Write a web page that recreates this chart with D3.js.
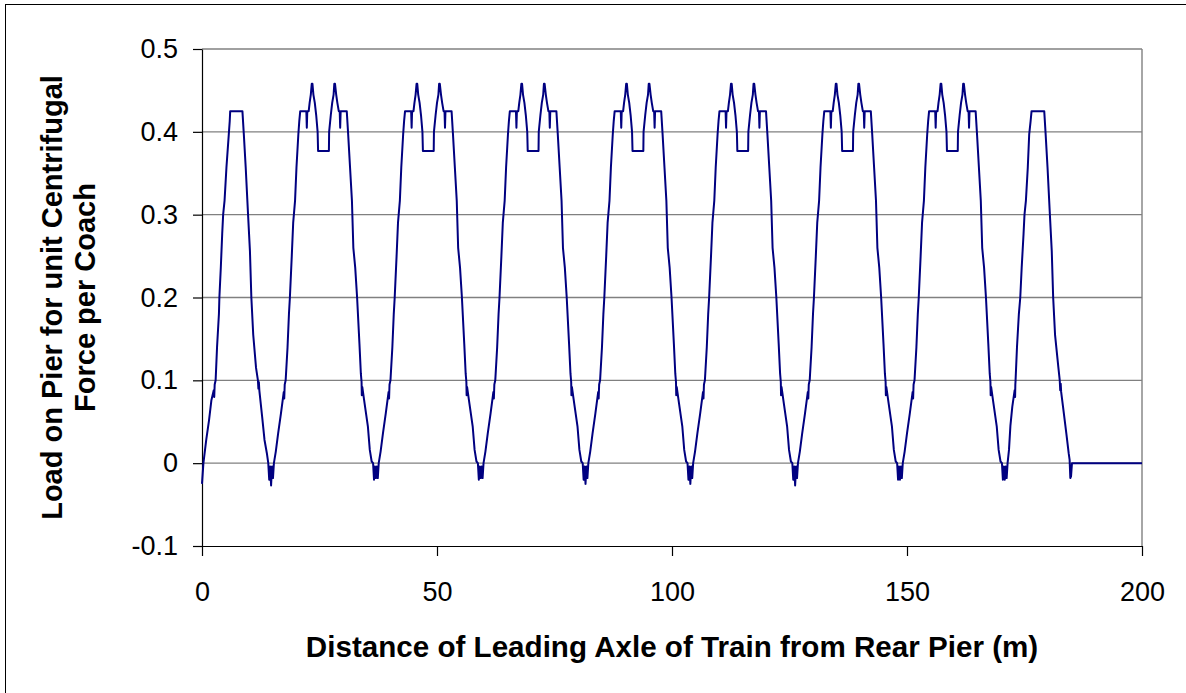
<!DOCTYPE html>
<html>
<head>
<meta charset="utf-8">
<script src="https://cdn.jsdelivr.net/npm/d3@7"></script>
<style>
  html, body { margin: 0; padding: 0; background: #fff; }
  svg { display: block; font-family: "Liberation Sans", Arial, sans-serif; }
</style>
</head>
<body>
<svg id="chart" width="1186" height="693"></svg>
<script>
// Axis ticks and labels
const xTicks = [0, 50, 100, 150, 200];
const xTickLabels = ["0", "50", "100", "150", "200"];
const yTicks = [-0.1, 0, 0.1, 0.2, 0.3, 0.4, 0.5];
const yTickLabels = ["-0.1", "0", "0.1", "0.2", "0.3", "0.4", "0.5"];
const xTitle = "Distance of Leading Axle of Train from Rear Pier (m)";
const yTitleLines = ["Load on Pier for unit Centrifugal", "Force per Coach"];

// Load on pier [distance (m), load] as the train advances, one stretch per coach passage
const stretch1 = [[0,-0.025],[0.3,0],[0.9,0.028],[1.5,0.052],[2.0,0.076],[2.5,0.088],[2.6,0.08],[2.7,0.095],[2.9,0.1],[3.2,0.14],[3.6,0.18],[3.7,0.2],[4.0,0.236],[4.3,0.277],[4.5,0.3],[4.8,0.317],[5.2,0.357],[5.7,0.397],[5.9,0.413],[6.0,0.425],[8.6,0.425],[8.9,0.397],[9.3,0.357],[9.8,0.3],[10.2,0.256],[10.5,0.2],[10.9,0.155],[11.5,0.115],[11.9,0.1],[12.0,0.09],[12.1,0.098],[12.2,0.088],[12.8,0.056],[13.3,0.028],[13.8,0.012]];

const stretch2 = [[14.1,0],[14.3,-0.02],[14.5,-0.004],[14.7,-0.027],[14.9,-0.004],[15.1,-0.018],[15.3,0],[15.7,0.014],[16.2,0.036],[16.8,0.06],[17.4,0.086],[17.5,0.078],[17.6,0.095],[17.8,0.1],[18.2,0.14],[18.5,0.18],[18.7,0.2],[19.1,0.25],[19.4,0.29],[19.8,0.317],[20.1,0.357],[20.5,0.397],[20.7,0.413],[20.9,0.425],[22.2,0.425],[22.3,0.405],[22.4,0.425],[22.7,0.425],[22.9,0.435],[23.15,0.445],[23.35,0.458],[23.5,0.458],[23.7,0.445],[24.0,0.435],[24.3,0.42],[24.6,0.4],[24.7,0.377],[27.0,0.377],[27.05,0.4],[27.4,0.42],[27.7,0.435],[28.0,0.445],[28.15,0.458],[28.3,0.458],[28.55,0.445],[28.8,0.435],[29.1,0.425],[29.3,0.425],[29.4,0.405],[29.5,0.425],[30.8,0.425],[31.1,0.397],[31.5,0.357],[31.9,0.317],[32.2,0.26],[32.6,0.236],[33.0,0.2],[33.5,0.144],[33.8,0.108],[33.95,0.098],[34.0,0.082],[34.1,0.092],[34.6,0.072],[35.3,0.044],[35.7,0.016],[36.1,0.002]];

const stretch3 = [[36.4,0],[36.6,-0.02],[36.8,-0.004],[37.0,-0.018],[37.2,-0.004],[37.4,-0.018],[37.6,0],[38.0,0.014],[38.5,0.036],[39.1,0.06],[39.7,0.086],[39.8,0.078],[39.9,0.095],[40.1,0.1],[40.5,0.14],[40.8,0.18],[41.0,0.2],[41.4,0.25],[41.7,0.29],[42.1,0.317],[42.4,0.357],[42.8,0.397],[43.0,0.413],[43.2,0.425],[44.5,0.425],[44.6,0.405],[44.7,0.425],[45.0,0.425],[45.2,0.435],[45.45,0.445],[45.65,0.458],[45.8,0.458],[46.0,0.445],[46.3,0.435],[46.6,0.42],[46.9,0.4],[47.0,0.377],[49.3,0.377],[49.35,0.4],[49.7,0.42],[50.0,0.435],[50.3,0.445],[50.45,0.458],[50.6,0.458],[50.85,0.445],[51.1,0.435],[51.4,0.425],[51.6,0.425],[51.7,0.405],[51.8,0.425],[53.1,0.425],[53.4,0.397],[53.8,0.357],[54.2,0.317],[54.5,0.26],[54.9,0.236],[55.3,0.2],[55.8,0.144],[56.1,0.108],[56.25,0.098],[56.3,0.082],[56.4,0.092],[56.9,0.072],[57.6,0.044],[58.0,0.016],[58.4,0.002]];

const stretch4 = [[58.7,0],[58.9,-0.02],[59.1,-0.004],[59.3,-0.018],[59.5,-0.004],[59.7,-0.018],[59.9,0],[60.3,0.014],[60.8,0.036],[61.4,0.06],[62.0,0.086],[62.1,0.078],[62.2,0.095],[62.4,0.1],[62.8,0.14],[63.1,0.18],[63.3,0.2],[63.7,0.25],[64.0,0.29],[64.4,0.317],[64.7,0.357],[65.1,0.397],[65.3,0.413],[65.5,0.425],[66.8,0.425],[66.9,0.405],[67.0,0.425],[67.3,0.425],[67.5,0.435],[67.75,0.445],[67.95,0.458],[68.1,0.458],[68.3,0.445],[68.6,0.435],[68.9,0.42],[69.2,0.4],[69.3,0.377],[71.6,0.377],[71.65,0.4],[72.0,0.42],[72.3,0.435],[72.6,0.445],[72.75,0.458],[72.9,0.458],[73.15,0.445],[73.4,0.435],[73.7,0.425],[73.9,0.425],[74.0,0.405],[74.1,0.425],[75.4,0.425],[75.7,0.397],[76.1,0.357],[76.5,0.317],[76.8,0.26],[77.2,0.236],[77.6,0.2],[78.1,0.144],[78.4,0.108],[78.55,0.098],[78.6,0.082],[78.7,0.092],[79.2,0.072],[79.9,0.044],[80.3,0.016],[80.7,0.002]];

const stretch5 = [[81.0,0],[81.2,-0.02],[81.4,-0.004],[81.6,-0.025],[81.8,-0.004],[82.0,-0.018],[82.2,0],[82.6,0.014],[83.1,0.036],[83.7,0.06],[84.3,0.086],[84.4,0.078],[84.5,0.095],[84.7,0.1],[85.1,0.14],[85.4,0.18],[85.6,0.2],[86.0,0.25],[86.3,0.29],[86.7,0.317],[87.0,0.357],[87.4,0.397],[87.6,0.413],[87.8,0.425],[89.1,0.425],[89.2,0.405],[89.3,0.425],[89.6,0.425],[89.8,0.435],[90.05,0.445],[90.25,0.458],[90.4,0.458],[90.6,0.445],[90.9,0.435],[91.2,0.42],[91.5,0.4],[91.6,0.377],[93.9,0.377],[93.95,0.4],[94.3,0.42],[94.6,0.435],[94.9,0.445],[95.05,0.458],[95.2,0.458],[95.45,0.445],[95.7,0.435],[96.0,0.425],[96.2,0.425],[96.3,0.405],[96.4,0.425],[97.7,0.425],[98.0,0.397],[98.4,0.357],[98.8,0.317],[99.1,0.26],[99.5,0.236],[99.9,0.2],[100.4,0.144],[100.7,0.108],[100.85,0.098],[100.9,0.082],[101.0,0.092],[101.5,0.072],[102.2,0.044],[102.6,0.016],[103.0,0.002]];

const stretch6 = [[103.3,0],[103.5,-0.02],[103.7,-0.004],[103.9,-0.025],[104.1,-0.004],[104.3,-0.018],[104.5,0],[104.9,0.014],[105.4,0.036],[106.0,0.06],[106.6,0.086],[106.7,0.078],[106.8,0.095],[107.0,0.1],[107.4,0.14],[107.7,0.18],[107.9,0.2],[108.3,0.25],[108.6,0.29],[109.0,0.317],[109.3,0.357],[109.7,0.397],[109.9,0.413],[110.1,0.425],[111.4,0.425],[111.5,0.405],[111.6,0.425],[111.9,0.425],[112.1,0.435],[112.35,0.445],[112.55,0.458],[112.7,0.458],[112.9,0.445],[113.2,0.435],[113.5,0.42],[113.8,0.4],[113.9,0.377],[116.2,0.377],[116.25,0.4],[116.6,0.42],[116.9,0.435],[117.2,0.445],[117.35,0.458],[117.5,0.458],[117.75,0.445],[118.0,0.435],[118.3,0.425],[118.5,0.425],[118.6,0.405],[118.7,0.425],[120.0,0.425],[120.3,0.397],[120.7,0.357],[121.1,0.317],[121.4,0.26],[121.8,0.236],[122.2,0.2],[122.7,0.144],[123.0,0.108],[123.15,0.098],[123.2,0.082],[123.3,0.092],[123.8,0.072],[124.5,0.044],[124.9,0.016],[125.3,0.002]];

const stretch7 = [[125.6,0],[125.8,-0.02],[126.0,-0.004],[126.2,-0.027],[126.4,-0.004],[126.6,-0.018],[126.8,0],[127.2,0.014],[127.7,0.036],[128.3,0.06],[128.9,0.086],[129.0,0.078],[129.1,0.095],[129.3,0.1],[129.7,0.14],[130.0,0.18],[130.2,0.2],[130.6,0.25],[130.9,0.29],[131.3,0.317],[131.6,0.357],[132.0,0.397],[132.2,0.413],[132.4,0.425],[133.7,0.425],[133.8,0.405],[133.9,0.425],[134.2,0.425],[134.4,0.435],[134.65,0.445],[134.85,0.458],[135.0,0.458],[135.2,0.445],[135.5,0.435],[135.8,0.42],[136.1,0.4],[136.2,0.377],[138.5,0.377],[138.55,0.4],[138.9,0.42],[139.2,0.435],[139.5,0.445],[139.65,0.458],[139.8,0.458],[140.05,0.445],[140.3,0.435],[140.6,0.425],[140.8,0.425],[140.9,0.405],[141.0,0.425],[142.3,0.425],[142.6,0.397],[143.0,0.357],[143.4,0.317],[143.7,0.26],[144.1,0.236],[144.5,0.2],[145.0,0.144],[145.3,0.108],[145.45,0.098],[145.5,0.082],[145.6,0.092],[146.1,0.072],[146.8,0.044],[147.2,0.016],[147.6,0.002]];

const stretch8 = [[147.9,0],[148.1,-0.02],[148.3,-0.004],[148.5,-0.02],[148.7,-0.004],[148.9,-0.018],[149.1,0],[149.5,0.014],[150.0,0.036],[150.6,0.06],[151.2,0.086],[151.3,0.078],[151.4,0.095],[151.6,0.1],[152.0,0.14],[152.3,0.18],[152.5,0.2],[152.9,0.25],[153.2,0.29],[153.6,0.317],[153.9,0.357],[154.3,0.397],[154.5,0.413],[154.7,0.425],[156.0,0.425],[156.1,0.405],[156.2,0.425],[156.5,0.425],[156.7,0.435],[156.95,0.445],[157.15,0.458],[157.3,0.458],[157.5,0.445],[157.8,0.435],[158.1,0.42],[158.4,0.4],[158.5,0.377],[160.8,0.377],[160.85,0.4],[161.2,0.42],[161.5,0.435],[161.8,0.445],[161.95,0.458],[162.1,0.458],[162.35,0.445],[162.6,0.435],[162.9,0.425],[163.1,0.425],[163.2,0.405],[163.3,0.425],[164.6,0.425],[164.9,0.397],[165.3,0.357],[165.7,0.317],[166.0,0.26],[166.4,0.236],[166.8,0.2],[167.3,0.144],[167.6,0.108],[167.75,0.098],[167.8,0.082],[167.9,0.092],[168.4,0.072],[169.1,0.044],[169.5,0.016],[169.9,0.002]];

const stretch9 = [[170.2,0],[170.4,-0.02],[170.6,-0.004],[170.8,-0.02],[171.0,-0.004],[171.2,-0.018],[171.4,0],[171.7,0.016],[172.0,0.045],[172.4,0.068],[172.9,0.088],[173.0,0.08],[173.05,0.095],[173.1,0.1],[173.4,0.14],[173.8,0.18],[174.1,0.2],[174.4,0.236],[174.8,0.277],[175.0,0.3],[175.3,0.317],[175.7,0.357],[176.0,0.397],[176.3,0.413],[176.5,0.425],[179.2,0.425],[179.5,0.397],[179.9,0.357],[180.4,0.3],[180.8,0.256],[181.1,0.2],[181.5,0.155],[182.2,0.116],[182.5,0.1],[182.6,0.088],[182.7,0.096],[182.8,0.086],[183.2,0.068],[183.9,0.036],[184.4,0.012],[184.6,0.004],[184.75,-0.018],[184.9,-0.016],[185.1,0],[200,0]];

const loadTrace = [stretch1, stretch2, stretch3, stretch4, stretch5, stretch6, stretch7, stretch8, stretch9].flat();

const W = 1186, H = 693;
const plot = { left: 202, right: 1142, top: 49, bottom: 546 };

const svg = d3.select("#chart");

const x = d3.scaleLinear().domain([0, 200]).range([plot.left, plot.right]);
const y = d3.scaleLinear().domain([-0.1, 0.5]).range([plot.bottom, plot.top]);

// Outer chart frame
svg.append("rect")
  .attr("x", 5.5).attr("y", 4.5)
  .attr("width", W).attr("height", H)
  .attr("fill", "#fff").attr("stroke", "#000").attr("stroke-width", 1);

// Horizontal gridlines
svg.append("g")
  .selectAll("line")
  .data(yTicks.filter(v => v > -0.1))
  .join("line")
  .attr("x1", plot.left).attr("x2", plot.right)
  .attr("y1", d => y(d)).attr("y2", d => y(d))
  .attr("stroke", "#808080").attr("stroke-width", 1.4);

// Right edge of the plot area
svg.append("line")
  .attr("x1", plot.right).attr("x2", plot.right)
  .attr("y1", plot.top).attr("y2", plot.bottom)
  .attr("stroke", "#808080").attr("stroke-width", 1.4);

// Axes
const yAxis = d3.axisLeft(y)
  .tickValues(yTicks)
  .tickSize(9).tickSizeOuter(0).tickPadding(15)
  .tickFormat((d, i) => yTickLabels[i]);

const xAxis = d3.axisBottom(x)
  .tickValues(xTicks)
  .tickSize(10).tickSizeOuter(0).tickPadding(26)
  .tickFormat((d, i) => xTickLabels[i]);

const gy = svg.append("g").attr("transform", `translate(${plot.left},0)`).call(yAxis);
const gx = svg.append("g").attr("transform", `translate(0,${plot.bottom})`).call(xAxis);

[gx, gy].forEach(g => {
  g.select(".domain").attr("stroke", "#000").attr("stroke-width", 1.2);
  g.selectAll(".tick line").attr("stroke", "#000").attr("stroke-width", 1.2);
  g.selectAll(".tick text")
    .attr("fill", "#000")
    .style("font-family", "'Liberation Sans', Arial, sans-serif")
    .style("font-size", "27px");
});

// Load trace
const line = d3.line()
  .x(d => x(d[0]))
  .y(d => y(d[1]));

svg.append("path")
  .datum(loadTrace)
  .attr("d", line)
  .attr("fill", "none")
  .attr("stroke", "#000080")
  .attr("stroke-width", 2)
  .attr("stroke-linejoin", "round");

// Axis titles
svg.append("text")
  .attr("x", (plot.left + plot.right) / 2)
  .attr("y", 657)
  .attr("text-anchor", "middle")
  .style("font-size", "29.6px")
  .style("font-weight", "bold")
  .text(xTitle);

const yTitleX = [62, 95];
yTitleLines.forEach((t, i) => {
  svg.append("text")
    .attr("transform", `translate(${yTitleX[i]},${(plot.top + plot.bottom) / 2}) rotate(-90)`)
    .attr("text-anchor", "middle")
    .style("font-size", "29px")
    .style("font-weight", "bold")
    .text(t);
});
</script>
</body>
</html>
